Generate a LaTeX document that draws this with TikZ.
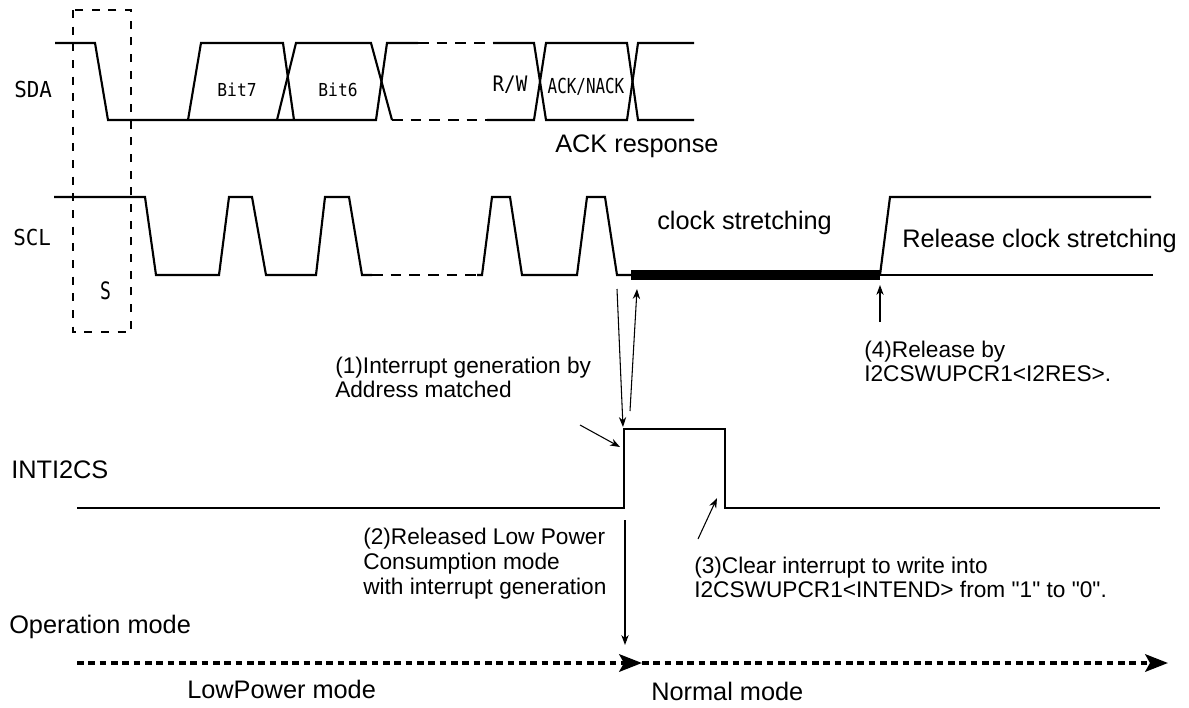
\documentclass[tikz,border=0pt]{standalone}
\usepackage{fontspec}
\usepackage{graphicx}
\setmainfont{Liberation Sans}[Ligatures=TeXOff]
\newfontfamily\monofont{DejaVu Sans Mono}
\usetikzlibrary{arrows.meta}
\begin{document}
\begin{tikzpicture}[x=0.75pt,y=-0.75pt,
  sig/.style={line width=1.6pt, line join=miter},
  sigdash/.style={line width=1.6pt, dash pattern=on 8pt off 6pt},
  boxdash/.style={line width=1.5pt, dash pattern=on 6pt off 6.5pt},
  thinarrow/.style={line width=0.8pt, -{Stealth[length=7.5pt,width=5.5pt]}},
  modearrow/.style={line width=3pt, dash pattern=on 4.9pt off 3.6pt, -{Stealth[length=17pt,width=13pt,inset=3.5pt]}},
  big/.style={inner sep=0pt, anchor=base west, font=\fontsize{19}{22}\selectfont},
  ann/.style={inner sep=0pt, anchor=base west, font=\fontsize{17}{20}\selectfont},
  mono/.style={inner sep=0pt, anchor=base, font=\monofont},
]
\useasboundingbox (0,0) rectangle (1189,707);

% ---- SDA ----
\draw[sig] (55,43) -- (95,43) -- (108,120) -- (294,120);
\draw[sig] (188,120) -- (201,43) -- (283,43) -- (294,120);
\draw[sig] (277,120) -- (296,43) -- (371,43) -- (392,120);
\draw[sig] (294,120) -- (376,120) -- (387,43) -- (418,43);
\draw[sigdash] (418,43) -- (493,43);
\draw[sig] (493,43) -- (534,43) -- (546,120) -- (627,120) -- (638,43) -- (694,43);
\draw[sigdash] (392,120) -- (487,120);
\draw[sig] (487,120) -- (534,120) -- (546,43) -- (627,43) -- (638,120) -- (694,120);

% ---- SCL ----
\draw[sig] (54,197) -- (145,197) -- (156,275) -- (219,275) -- (229,197) -- (252,197)
  -- (266,275) -- (316,275) -- (325,197) -- (349,197) -- (362,275) -- (372,275);
\draw[sigdash] (372,275) -- (477,275);
\draw[sig] (477,275) -- (482,275) -- (492,197) -- (510,197) -- (522,275) -- (577,275)
  -- (587,197) -- (605,197) -- (617,275) -- (631,275);
\fill (631,270) rectangle (880,280);
\draw[sig] (880,275) -- (1153,275);
\draw[sig] (880,275) -- (890,197) -- (1151,197);

% ---- start condition box ----
\draw[boxdash] (73,10) rectangle (131,332);

% ---- INTI2CS ----
\draw[line width=2pt, line join=miter] (77,508) -- (624,508) -- (624,429) -- (725,429) -- (725,508) -- (1160,508);

% ---- labels (mono) ----
\node[mono, anchor=base west, font=\monofont\fontsize{16.5}{18}\selectfont] (sda) at (14,97) {\scalebox{0.95}[1]{SDA}};
\node[mono, anchor=base west, font=\monofont\fontsize{16.5}{18}\selectfont] (scl) at (13,245) {\scalebox{0.95}[1]{SCL}};
\node[mono, font=\monofont\fontsize{13.4}{15}\selectfont] (bit7) at (237,96) {\scalebox{0.91}[1]{Bit7}};
\node[mono, font=\monofont\fontsize{13.4}{15}\selectfont] (bit6) at (338,96) {\scalebox{0.91}[1]{Bit6}};
\node[mono, font=\monofont\fontsize{16}{18}\selectfont] (rw) at (510,91) {\scalebox{0.9}[1]{R/W}};
\node[mono, font=\monofont\fontsize{15.5}{18}\selectfont] (ack) at (586,93) {\scalebox{0.77}[1]{ACK/NACK}};
\node[mono, font=\monofont\fontsize{18}{20}\selectfont] (s) at (105.5,299) {\scalebox{0.75}[1]{S}};

% ---- labels (sans) ----
\node[big] (ackresp) at (555,152) {ACK response};
\node[big] (clk) at (657,229) {clock stretching};
\node[big] (rel) at (902,247) {Release clock stretching};
\node[big] (inti) at (11,478) {INTI2CS};
\node[big] (opmode) at (9,633) {Operation mode};
\node[big] (lowp) at (187,698) {LowPower mode};
\node[big] (norm) at (651,700) {Normal mode};

\node[ann] (n1a) at (335,373) {(1)Interrupt generation by};
\node[ann] (n1b) at (335,397) {Address matched};
\node[ann] (n2a) at (363,544) {(2)Released Low Power};
\node[ann] (n2b) at (363,569) {Consumption mode};
\node[ann] (n2c) at (363,594) {with interrupt generation};
\node[ann] (n3a) at (694,573) {(3)Clear interrupt to write into};
\node[ann] (n3b) at (694,597) {I2CSWUPCR1<INTEND> from "1" to "0".};
\node[ann] (n4a) at (864,357) {(4)Release by};
\node[ann] (n4b) at (864,381) {I2CSWUPCR1<I2RES>.};

% ---- connector coordinates ----
\coordinate (a1s) at (617,289);
\coordinate (a1e) at (623,427);
\coordinate (a2s) at (630,411);
\coordinate (a2e) at (637,289);
\coordinate (a3s) at (580,425);
\coordinate (a3e) at (620,447);
\coordinate (a4s) at (625,520);
\coordinate (a4e) at (625,645);
\coordinate (a5s) at (698,539);
\coordinate (a5e) at (717,498);
\coordinate (a6s) at (880,322);
\coordinate (a6e) at (880,285);
\coordinate (m0) at (77,663);
\coordinate (m1) at (642,663);
\coordinate (m2) at (1168,663);

\draw[thinarrow] (a1s) -- (a1e);
\draw[thinarrow] (a2s) -- (a2e);
\draw[thinarrow] (a3s) -- (a3e);
\draw[thinarrow] (a4s) -- (a4e);
\draw[thinarrow] (a5s) -- (a5e);
\draw[thinarrow] (a6s) -- (a6e);
\draw[modearrow] (m0) -- (m1);
\draw[modearrow] (m1) -- (m2);
\end{tikzpicture}
\end{document}
